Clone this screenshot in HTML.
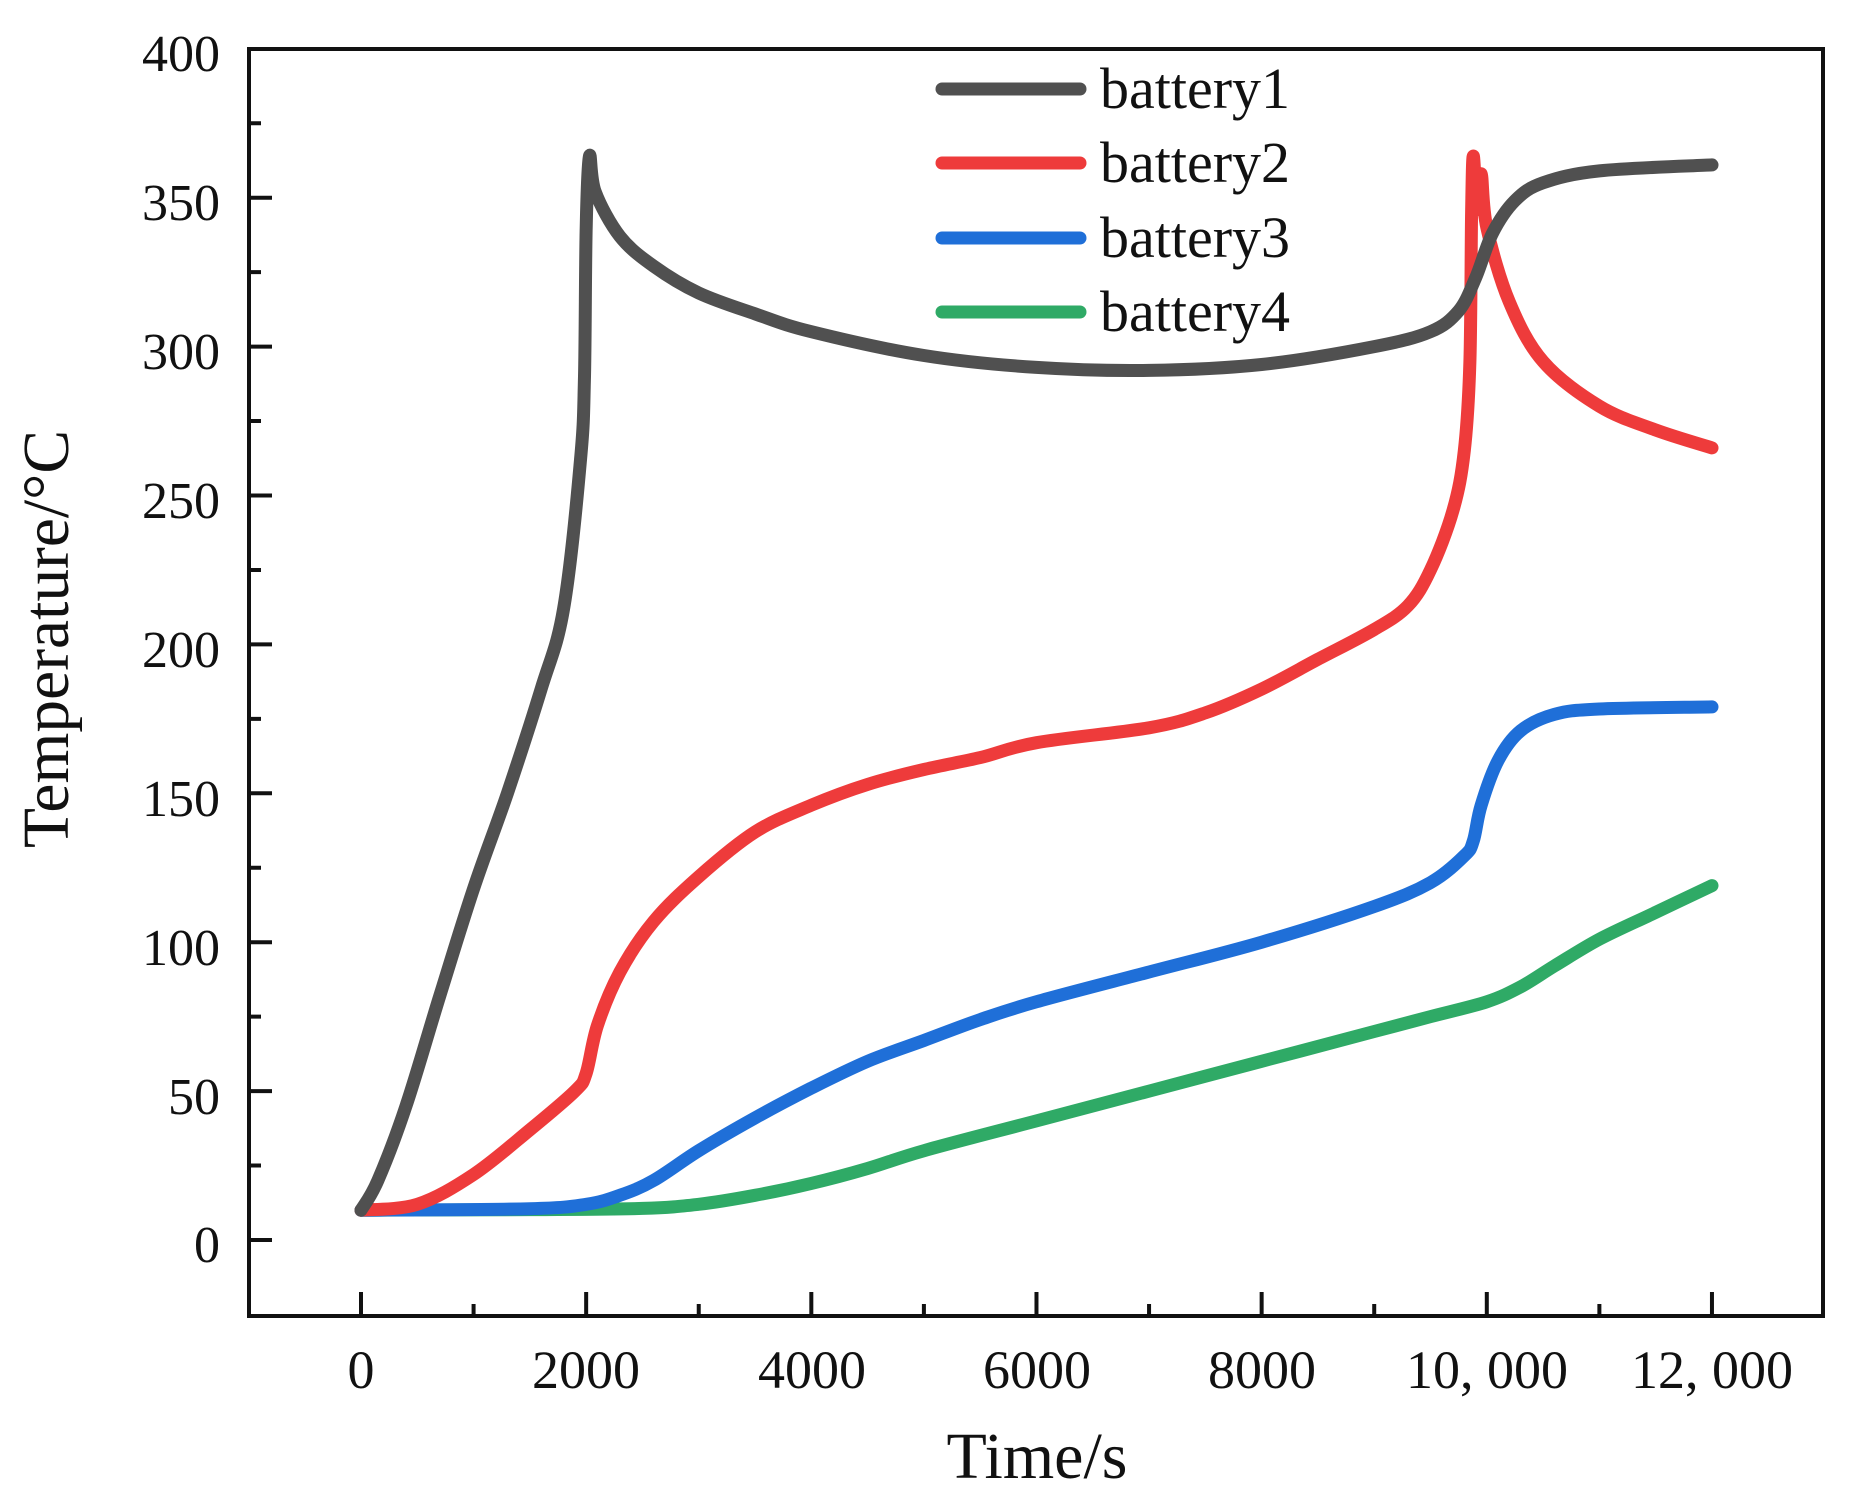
<!DOCTYPE html>
<html><head><meta charset="utf-8"><style>
html,body{margin:0;padding:0;background:#fff;}
svg{display:block;}
text{font-family:"Liberation Serif","Noto Serif CJK SC",serif;fill:#111;}
</style></head><body>
<svg id="s" width="1858" height="1500" viewBox="0 0 1858 1500" xmlns="http://www.w3.org/2000/svg">
<rect x="249" y="49" width="1574" height="1267" fill="none" stroke="#111" stroke-width="4"/>
<g id="ticks" stroke="#111" stroke-width="4"></g>
<g font-size="52" text-anchor="end">
<text x="220" y="71">400</text>
<text x="220" y="220">350</text>
<text x="220" y="369">300</text>
<text x="220" y="518">250</text>
<text x="220" y="667">200</text>
<text x="220" y="816">150</text>
<text x="220" y="965">100</text>
<text x="220" y="1114">50</text>
<text x="220" y="1262">0</text>
</g>
<g font-size="54" text-anchor="middle">
<text x="361" y="1388">0</text>
<text x="586" y="1388">2000</text>
<text x="812" y="1388">4000</text>
<text x="1037" y="1388">6000</text>
<text x="1262" y="1388">8000</text>
<text x="1487" y="1388">10, 000</text>
<text x="1712" y="1388">12, 000</text>
</g>
<text x="1037" y="1478" font-size="66" text-anchor="middle">Time/s</text>
<text transform="translate(68,639) rotate(-90)" font-size="66" text-anchor="middle" textLength="418" lengthAdjust="spacingAndGlyphs">Temperature/°C</text>
<g id="curves" fill="none" stroke-width="13" stroke-linecap="round" stroke-linejoin="round"></g>
<g stroke-width="13" stroke-linecap="round">
<line x1="942" y1="89" x2="1080" y2="89" stroke="#505050"/>
<line x1="942" y1="163" x2="1080" y2="163" stroke="#ee3b3b"/>
<line x1="942" y1="238" x2="1080" y2="238" stroke="#1f6fd8"/>
<line x1="942" y1="312" x2="1080" y2="312" stroke="#2faa66"/>
</g>
<g font-size="58">
<text x="1100" y="108" textLength="190" lengthAdjust="spacingAndGlyphs">battery1</text>
<text x="1100" y="182" textLength="190" lengthAdjust="spacingAndGlyphs">battery2</text>
<text x="1100" y="257" textLength="190" lengthAdjust="spacingAndGlyphs">battery3</text>
<text x="1100" y="331" textLength="190" lengthAdjust="spacingAndGlyphs">battery4</text>
</g>
</svg>
<script>
var X=function(t){return 361+0.11258*t},Y=function(v){return 1240-2.978*v};
var ns="http://www.w3.org/2000/svg";
var tk=document.getElementById("ticks"),d="";
for(var v=0;v<400;v+=25){var L=(v%50==0)?23:12;d+="M249 "+Y(v)+"h"+L;}
for(var t=0;t<=12000;t+=1000){var L=(t%2000==0)?24:12;d+="M"+X(t)+" 1316v-"+L;}
var p=document.createElementNS(ns,"path");p.setAttribute("d",d);tk.appendChild(p);
var S=[
["#2faa66",[[0,10],[1500,10.2],[2500,10.6],[3000,12],[3500,15],[4000,19],[4500,24],[5000,30],[6000,40],[7000,50],[8000,60],[9000,70],[9500,75],[10000,80],[10300,85],[10600,92],[11000,101],[11500,110],[12000,119]]],
["#1f6fd8",[[0,10],[1500,10.5],[2000,12],[2300,15],[2600,20],[3000,30],[3500,41],[4000,51],[4500,60],[5000,67],[5500,74],[6000,80],[7000,90],[8000,100],[9000,112],[9500,120],[9800,129],[9880,134],[9950,146],[10100,161],[10300,171],[10600,176.5],[11000,178.3],[12000,179]]],
["#ee3b3b",[[0,10],[500,12],[1000,22],[1500,37],[1900,50],[2000,56],[2100,72],[2300,90],[2600,107],[3000,122],[3500,137],[4000,146],[4500,153],[5000,158],[5500,162],[6000,167],[7000,172],[7500,177],[8000,185],[8500,195],[9000,205],[9300,213],[9500,225],[9700,245],[9800,265],[9850,295],[9865,345],[9880,364],[9915,346],[9950,358],[10000,340],[10200,315],[10500,295],[11000,280],[11500,272],[12000,266]]],
["#505050",[[0,10],[150,20],[400,45],[700,82],[1000,118],[1300,150],[1600,185],[1800,212],[1950,262],[1985,290],[2000,340],[2030,364],[2080,352],[2300,337],[2600,327],[3000,318],[3500,311],[4000,305],[5000,297],[6000,293],[7000,292],[8000,294],[9000,300],[9500,305],[9750,312],[9900,323],[10050,338],[10250,349],[10500,355],[11000,359],[12000,361]]]
];
function cr(P){var s="M"+P[0][0].toFixed(1)+","+P[0][1].toFixed(1);
for(var i=0;i<P.length-1;i++){var p0=P[i-1]||P[i],p1=P[i],p2=P[i+1],p3=P[i+2]||p2;
var c1=[p1[0]+(p2[0]-p0[0])/6,p1[1]+(p2[1]-p0[1])/6],c2=[p2[0]-(p3[0]-p1[0])/6,p2[1]-(p3[1]-p1[1])/6];
s+="C"+c1[0].toFixed(1)+","+c1[1].toFixed(1)+" "+c2[0].toFixed(1)+","+c2[1].toFixed(1)+" "+p2[0].toFixed(1)+","+p2[1].toFixed(1);}
return s;}
var g=document.getElementById("curves");
S.forEach(function(s){var P=s[1].map(function(q){return [X(q[0]),Y(q[1])]});
var pa=document.createElementNS(ns,"path");pa.setAttribute("d",cr(P));pa.setAttribute("stroke",s[0]);g.appendChild(pa);});
</script>
</body></html>
